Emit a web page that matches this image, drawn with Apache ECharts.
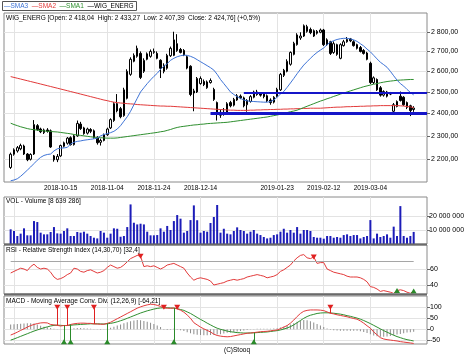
<!DOCTYPE html>
<html><head><meta charset="utf-8">
<script src="https://cdn.jsdelivr.net/npm/echarts@6.0.0/dist/echarts.min.js"></script>
<style>html,body{margin:0;padding:0;background:#fff;}#chart{width:474px;height:355px;}</style>
</head><body><div id="chart"></div>
<script>
// ---------------- data ----------------
const tradingDays = {
  '2018-09': [24,25,26,27,28],
  '2018-10': [1,2,3,4,5,8,9,10,11,12,15,16,17,18,19,22,23,24,25,26,29,30,31],
  '2018-11': [2,5,6,7,8,9,13,14,15,16,19,20,21,22,23,26,27,28,29,30],
  '2018-12': [3,4,5,6,7,10,11,12,13,14,17,18,19,20,21,27,28],
  '2019-01': [2,3,4,7,8,9,10,11,14,15,16,17,18,21,22,23,24,25,28,29,30,31],
  '2019-02': [1,4,5,6,7,8,11,12,13,14,15,18,19,20,21,22,25,26,27,28],
  '2019-03': [1,4,5,6,7,8,11,12,13,14,15,18,19,20,21]
};
const tickLabels = ['2018-10-15','2018-11-04','2018-11-24','2018-12-14','2019-01-23','2019-02-12','2019-03-04'];
const extraGridDates = ['2018-09-25'];

const openP = [2166,2221,2235,2244,2256,2222,2200,2222,2345,2330, 2314,2326,2322,2214,2198,2214,2255,2268,2292,2262,
  2300,2352,2335,2312,2328,2322,2294,2272,2280,2305, 2335,2368,2445,2422,2390,2470,2585,2650,2675,2690,
  2600,2660,2675,2695,2690,2655,2630,2615,2678,2680, 2740,2710,2705,2673,2625,2495,2500,2540,2550,2520,
  2545,2512,2450,2392,2405,2405,2450,2438,2462,2480, 2472,2440,2455,2475,2500,2490,2490,2482,2462,2452,
  2478,2510,2580,2600,2635,2685,2735,2770,2780,2830, 2815,2808,2795,2800,2812,2760,2750,2695,2735,2665,
  2730,2750,2765,2750,2735,2720,2705,2692,2640,2545, 2560,2520,2485,2500,2492,2410,2432,2480,2475,2450,
  2435,2418.04];
const highP = [2228,2246,2256,2266,2262,2226,2225,2370,2352,2336, 2332,2334,2328,2218,2222,2262,2275,2295,2298,2305,
  2368,2362,2340,2336,2334,2328,2298,2288,2310,2336, 2378,2452,2490,2430,2520,2610,2670,2690,2730,2700,
  2665,2695,2710,2715,2700,2660,2640,2688,2725,2803, 2790,2718,2712,2680,2630,2515,2572,2575,2560,2555,
  2565,2520,2455,2418,2425,2452,2458,2472,2490,2488, 2478,2466,2485,2506,2510,2498,2496,2488,2470,2480,
  2520,2592,2612,2660,2700,2750,2795,2800,2842,2840, 2825,2815,2812,2820,2818,2768,2755,2752,2740,2742,
  2760,2775,2770,2758,2740,2728,2712,2698,2648,2575, 2565,2528,2508,2505,2500,2448,2460,2502,2480,2455,
  2440,2433.27];
const lowP = [2160,2215,2228,2238,2218,2192,2195,2218,2322,2312, 2308,2314,2248,2190,2188,2210,2250,2262,2258,2258,
  2296,2326,2305,2306,2312,2288,2262,2258,2276,2300, 2330,2362,2405,2378,2385,2465,2578,2645,2668,2562,
  2592,2655,2668,2688,2660,2567,2590,2608,2672,2676, 2698,2690,2676,2610,2480,2410,2495,2535,2528,2515,
  2540,2458,2368,2380,2390,2400,2428,2432,2458,2466, 2428,2408,2450,2470,2482,2478,2470,2452,2440,2446,
  2474,2505,2572,2595,2628,2680,2730,2760,2775,2798, 2790,2775,2788,2795,2728,2728,2682,2688,2678,2660,
  2725,2745,2748,2725,2710,2695,2684,2655,2538,2538, 2505,2478,2478,2474,2485,2405,2428,2455,2435,2420,
  2388,2407.39];
const closeP = [2221,2240,2249,2258,2222,2198,2220,2350,2328,2318, 2326,2320,2252,2198,2212,2258,2270,2290,2262,2300,
  2355,2332,2310,2330,2320,2292,2270,2280,2305,2330, 2372,2445,2412,2385,2510,2600,2660,2680,2716,2570,
  2655,2688,2700,2700,2665,2615,2600,2680,2716,2760, 2705,2695,2682,2616,2488,2505,2565,2565,2535,2548,
  2555,2465,2395,2405,2398,2445,2435,2465,2482,2472, 2435,2460,2478,2500,2488,2485,2478,2458,2450,2475,
  2512,2585,2605,2650,2695,2742,2786,2780,2835,2805, 2798,2780,2805,2812,2735,2735,2690,2740,2685,2735,
  2750,2762,2755,2730,2716,2700,2690,2660,2545,2568, 2510,2485,2502,2480,2490,2440,2455,2460,2440,2428,
  2413,2424.76];

const sma3 = [2112,2115,2120,2130,2142,2155,2168,2182,2196,2208, 2216,2220,2222,2235,2244,2247,2248,2250,2265,2272,
  2276,2278,2281,2283,2285,2287,2290,2300,2306,2310, 2314,2320,2330,2345,2365,2385,2410,2440,2470,2500,
  2520,2540,2558,2575,2590,2610,2625,2638,2655,2665, 2673,2678,2681,2680,2675,2668,2658,2648,2638,2628,
  2618,2606,2585,2560,2540,2520,2500,2488,2478,2470, 2462,2458,2456,2455,2454,2453,2452,2452,2455,2462,
  2475,2490,2502,2522,2543,2565,2588,2610,2631,2648, 2665,2681,2695,2707,2718,2735,2748,2756,2762,2766,
  2768,2768,2765,2760,2752,2740,2728,2712,2698,2680, 2662,2645,2633,2620,2600,2578,2557,2540,2528,2512,
  2498,2486];
const sma2 = [2574,2570,2566,2562,2558,2554,2550,2546,2542,2538, 2534,2530,2526,2522,2518,2514,2510,2506,2502,2498,
  2494,2490,2486,2482,2478,2474,2470,2466,2462,2459, 2455,2452,2450,2448,2447,2445,2444,2443,2441,2440,
  2439,2438,2437,2436,2435,2434,2434,2433,2433,2432, 2431,2430,2429,2428,2427,2426,2425,2424,2423,2422,
  2421,2420,2419,2418,2417,2416,2415,2415,2414,2414, 2414,2414,2415,2415,2416,2416,2417,2417,2418,2418,
  2419,2419,2420,2420,2421,2421,2422,2422,2423,2423, 2424,2424,2424,2424,2425,2426,2427,2428,2429,2429,
  2430,2431,2431,2432,2432,2433,2433,2434,2434,2435, 2435,2436,2436,2436,2436,2436,2436,2435,2434,2432,
  2430,2427];
const sma1 = [2356,2350,2345,2340,2336,2332,2329,2327,2325,2323, 2322,2320,2319,2318,2317,2315,2313,2311,2309,2306,
  2304,2302,2300,2298,2296,2294,2293,2292,2291,2290, 2290,2290,2291,2293,2295,2297,2299,2301,2303,2305,
  2307,2309,2311,2313,2315,2318,2320,2324,2328,2333, 2337,2340,2342,2344,2346,2348,2349,2351,2352,2354,
  2355,2356,2357,2358,2359,2360,2362,2364,2366,2368, 2370,2372,2374,2376,2378,2380,2382,2384,2387,2390,
  2393,2396,2400,2404,2408,2411,2415,2421,2427,2433, 2439,2445,2451,2457,2462,2468,2473,2479,2484,2490,
  2495,2500,2505,2510,2515,2520,2525,2529,2533,2537, 2540,2544,2547,2550,2552,2554,2556,2557,2558,2559,
  2560,2560];

const volumeM = [10.5,9.3,5.7,7.4,11.2,6.2,6.2,16.4,15.7,8.1, 6.9,6.9,8.6,12.1,7.6,7.4,9.3,11.2,5.7,5.7,
  8.6,8.1,8.8,7.4,5.7,4.5,4.0,9.3,8.1,4.5, 7.4,11.2,10.9,5.2,5.7,12.1,28.3,15.2,14.0,14.5,
  14.0,8.8,6.2,6.2,6.4,11.2,8.8,12.9,10.0,16.4, 20.7,18.1,8.1,9.3,17.1,27.6,17.0,8.1,9.3,8.8,
  15.0,19.3,27.9,8.1,10.9,7.4,6.9,9.3,11.9,10.0, 9.3,7.4,8.8,10.0,7.4,6.4,5.0,4.0,4.5,6.4,
  6.9,8.8,10.9,8.1,10.0,8.1,12.1,7.4,10.0,10.0, 9.3,5.0,4.5,4.5,3.8,5.7,5.7,4.5,5.0,4.5,
  6.4,6.9,5.7,6.4,6.4,4.0,5.0,5.7,17.1,4.0, 7.4,5.0,5.7,6.9,4.5,12.4,5.7,27.1,5.7,4.5,
  5.7,8.639286];

const rsi = [55,57,59,61,60,58,63,66,62,60, 61,60,56,50,47,48,50,53,55,61,
  60,57,56,58,59,57,55,56,58,62, 65,63,61,62,65,69,73,75,77,76,
  63,64,63,64,62,60,62,65,66,67, 65,63,61,55,50,46,48,49,48,47,
  45,40,41,42,43,45,46,47,46,47, 48,50,51,52,53,52,51,49,50,51,
  53,57,59,62,65,70,74,77,78,74, 73,75,67,68,68,60,58,56,55,54,
  53,51,50,50,50,49,47,44,38,37, 35,32,33,32,31,29.5,33,34,33,31,
  29.6,32.4];

const macd = [-26,-20,-13,-5,2,10,17,22,26,29, 30,29,22,20,18,15,17.5,17,22,25,
  27,28,28,27,27,24.5,24,23,23,27, 32,40,48,56,64,72,80,88,96,102,
  107,111,114,113,109,104,97,96,95.5,97, 93,87,78,65,50,30,20,10,2,-5,
  -12,-22,-28,-31,-33,-34,-33,-30,-27,-24, -21,-18,-17,-15,-13,-11,-10,-9,-7,-5,
  -3,3,10,17,28,42,58,72,82,86, 88,88,88,87,85,79,73,70,66,63,
  60,57,53,49,46,38,28,16,5,-12, -25,-38,-44,-47,-49,-51,-53,-56,-58,-60,
  -62,-64.21];
const signal = [-49,-44,-38,-32,-26,-20,-14,-8,-3,2, 7,11,15,18,19,18,17,17.5,18.5,20,
  21,22,23,24,25,25,25,24.5,24,25, 27,30,34,39,44,50,56,62,68,74,
  79,84,88,92,95,97,98,98,97,96, 94,90,86,79,72,63,54,45,37,28,
  20,12,5,0,-4,-8,-11,-13,-15,-16, -17,-17,-16.5,-16,-15,-14,-13,-12,-10,-8,
  -6,-3,1,6,12,20,30,40,50,58, 64,68,72,74,75,75,74.5,73,71,69,
  66,62,59,55,51,46,40,33,26,18, 10,2,-6,-13,-20,-27,-33,-38,-43,-47,
  -50,-53];
const hist = [22,23,24,25,26,27,27,26,22,16, 12,9,6,3,1,-1,1,0,3,5,
  6,6,5,4,3,-1,-1,-2,-1,2, 7,12,17,22,27,32,37,40,42,41,
  38,34,30,24,17,10,-2,-3,-2,2, -2,-4,-8,-13,-18,-22,-25,-26,-27,-27,
  -26,-25,-24,-22,-19,-16,-14,-12,-10,-8, -5,-3,-1,1,2,2,3,3,3,4,
  5,8,12,17,22,28,34,39,42,41, 37,31,24,17,10,4,-2,-4,-5,-6,
  -6,-6,-6,-6,-7,-9,-12,-17,-22,-28, -32,-34,-34,-33,-30,-27,-24,-21,-18,-15,
  -13,-11];

const macdSellIdx = [14,17,25,46,50,96];
const macdBuyIdx  = [16,18,29,49,73];
const rsiSellIdx  = [39,91];
const rsiBuyIdx   = [116,121];
const supportLines = [{value: 2498, fromIdx: 70}, {value: 2402, fromIdx: 60}];

const priceTicks = [2200,2300,2400,2500,2600,2700,2800];
const volTicks = [10,20];
const rsiTicks = [40,60];
const rsiLevels = [30,70];
const macdTicks = [-50,0,50,100];
const changeText = '(+0,5%)';

// ---------------- build ----------------
const FONT = 'Liberation Sans';
const FS = 6.5;
const dates = [];
Object.keys(tradingDays).forEach(m => tradingDays[m].forEach(d => dates.push(m + '-' + (d < 10 ? '0' : '') + d)));
const PADL = 2, PADR = 4, NCAT = PADL + dates.length + PADR;
const cats = [];
for (let k = 0; k < NCAT; k++) { const i = k - PADL; cats.push(i >= 0 && i < dates.length ? dates[i] : 'pad' + k); }
const K = i => i + PADL;
const firstOnOrAfter = d => dates.findIndex(x => x >= d);
const labelAt = {};
tickLabels.forEach(t => { labelAt[K(firstOnOrAfter(t))] = t; });
const gridAt = new Set(Object.keys(labelAt).map(Number));
extraGridDates.forEach(t => gridAt.add(K(firstOnOrAfter(t))));
const pairs = arr => arr.map((v, i) => [K(i), v]);
const N = dates.length;

function fmtNum(v, dec) {
  const neg = v < 0; const s = Math.abs(v).toFixed(dec); const parts = s.split('.');
  const a = parts[0].replace(/\B(?=(\d{3})+(?!\d))/g, ' ');
  return (neg ? '-' : '') + a + (parts[1] !== undefined ? ',' + parts[1] : '');
}

const gridBox = {show: true, borderColor: '#8a8a8a', borderWidth: 1, containLabel: false, outerBoundsMode: 'none'};
const grids = [
  Object.assign({left: 4, top: 13, width: 423, height: 169}, gridBox),
  Object.assign({left: 4, top: 197, width: 423, height: 47}, gridBox),
  Object.assign({left: 4, top: 245, width: 423, height: 49}, gridBox),
  Object.assign({left: 4, top: 296, width: 423, height: 48}, gridBox)
];
const GRIDCOL = '#e3e3e3';
const xAxes = grids.map((g, gi) => ({
  type: 'category', gridIndex: gi, data: cats, boundaryGap: false,
  axisLine: {show: false}, axisTick: {show: false},
  axisLabel: gi === 0 ? {show: true, interval: idx => labelAt[idx] !== undefined,
      formatter: (v, idx) => labelAt[idx] || '', fontSize: FS, color: '#000', margin: 3, fontFamily: FONT}
    : {show: false},
  splitLine: {show: true, interval: idx => gridAt.has(idx), lineStyle: {color: GRIDCOL, width: 1}}
}));
function yAx(gi, type, min, max, ticks, fmt, margin) {
  return {type: type, gridIndex: gi, position: 'right', min: min, max: max, scale: true,
    axisLine: {show: false},
    axisTick: {show: true, length: 3, customValues: ticks, lineStyle: {color: '#666'}},
    splitLine: {show: true, lineStyle: {color: GRIDCOL, width: 1}},
    axisLabel: {customValues: ticks, formatter: fmt, fontSize: 7, color: '#000', margin: margin, fontFamily: FONT}};
}
const yAxes = [
  Object.assign(yAx(0, 'log', 2107, 2904.5, priceTicks, v => fmtNum(v, 2), 4), {logBase: 10}),
  yAx(1, 'value', 0, 33.6, volTicks, v => fmtNum(v * 1e6, 0), 2),
  yAx(2, 'value', 28.75, 90, rsiTicks, v => String(v), 3),
  yAx(3, 'value', -66.8, 151.4, macdTicks, v => String(v), 3)
];

const C_SMA3 = '#3f74d6', C_SMA2 = '#e23a3a', C_SMA1 = '#2f8f2f';
const C_RED = '#e02020', C_GREEN = '#2a8a2a';
const lineS = (name, data, color, xi, yi, z) => ({name: name, type: 'line', xAxisIndex: xi, yAxisIndex: yi,
  data: data, symbol: 'none', silent: true, z: z || 3, lineStyle: {color: color, width: 1}, itemStyle: {color: color}});
const tri = (data, color, down, xi, yi) => ({type: 'scatter', xAxisIndex: xi, yAxisIndex: yi, data: data,
  symbol: 'triangle', symbolSize: [6, 5], symbolRotate: down ? 180 : 0, silent: true, z: 6,
  itemStyle: {color: color, opacity: 1}});
const vline = (list, color) => ({silent: true, symbol: ['none', 'none'], label: {show: false}, animation: false,
  lineStyle: {color: color, width: 1, type: 'solid'}, data: list});

const MACD_TOP = 100, MACD_BOTTOM = -57;
const txt = (text, left, top, extra) => Object.assign({text: text, left: left, top: top, padding: 0,
  textStyle: {fontSize: FS, fontWeight: 'normal', color: '#000', fontFamily: FONT}}, extra || {});
const last = N - 1;
const titles = [
  txt('WIG_ENERG [Open: ' + fmtNum(openP[last], 2) + '  High: ' + fmtNum(highP[last], 2) + '  Low: ' +
      fmtNum(lowP[last], 2) + '  Close: ' + fmtNum(closeP[last], 2) + '] ' + changeText, 6, 14.5),
  txt('VOL - Volume [' + fmtNum(volumeM[last] * 1e6, 0) + ']', 6, 197.5),
  txt('RSI - Relative Strength Index (14,30,70) [' + fmtNum(rsi[last], 1) + ']', 6, 247),
  txt('MACD - Moving Average Conv. Div. (12,26,9) [' + fmtNum(macd[last], 2) + ']', 6, 297.5),
  txt('(C)Stooq', 'center', 347),
  // legend box (rich text)
  {text: '{b|—SMA3}  {r|—SMA2}  {g|—SMA1}  {k|—WIG_ENERG}', left: 2, top: 1, padding: [1, 3, 0, 2],
   borderColor: '#555', borderWidth: 1,
   textStyle: {fontSize: FS, fontWeight: 'normal', fontFamily: FONT, lineHeight: 9,
     rich: {b: {color: C_SMA3, fontSize: FS, fontFamily: FONT}, r: {color: C_SMA2, fontSize: FS, fontFamily: FONT},
            g: {color: C_SMA1, fontSize: FS, fontFamily: FONT}, k: {color: '#000', fontSize: FS, fontFamily: FONT}}}}
];

const option = {
  animation: false,
  backgroundColor: '#fff',
  textStyle: {fontFamily: FONT},
  title: titles,
  grid: grids,
  xAxis: xAxes,
  yAxis: yAxes,
  graphic: [
    {type: 'line', shape: {x1: 4, y1: 244.5, x2: 427, y2: 244.5}, style: {stroke: '#6a6a6a', lineWidth: 2}, silent: true, z: 10},
    {type: 'line', shape: {x1: 4, y1: 294.5, x2: 427, y2: 294.5}, style: {stroke: '#6a6a6a', lineWidth: 2}, silent: true, z: 10}
  ],
  series: [
    {name: 'WIG_ENERG', type: 'candlestick', xAxisIndex: 0, yAxisIndex: 0, barWidth: 2, z: 2, silent: true,
     data: dates.map((d, i) => [K(i), openP[i], closeP[i], lowP[i], highP[i]]),
     encode: {x: 0, y: [1, 2, 3, 4]},
     itemStyle: {color: '#fff', color0: '#000', borderColor: '#000', borderColor0: '#000', borderWidth: 1},
     markLine: {silent: true, symbol: ['none', 'none'], label: {show: false}, animation: false, z: 5,
       data: supportLines.map((s, j) => [
         {coord: [K(s.fromIdx), s.value], lineStyle: {color: '#1515c8', width: j === 0 ? 2 : 3, type: 'solid'}},
         {coord: [NCAT - 1, s.value]}])}},
    lineS('SMA2', pairs(sma2), C_SMA2, 0, 0),
    lineS('SMA1', pairs(sma1), C_SMA1, 0, 0),
    lineS('SMA3', pairs(sma3), C_SMA3, 0, 0),
    {name: 'VOL', type: 'bar', xAxisIndex: 1, yAxisIndex: 1, data: pairs(volumeM), barWidth: 2, silent: true,
     itemStyle: {color: '#1c1cb8'}},
    Object.assign(lineS('RSI', pairs(rsi), C_SMA2, 2, 2), {
      markLine: vline(rsiLevels.map(v => [{coord: [K(0), v]}, {coord: [K(last), v]}]), '#a6a6a6')}),
    tri(rsiSellIdx.map(i => [K(i), rsi[i]]), C_RED, true, 2, 2),
    tri(rsiBuyIdx.map(i => [K(i), rsi[i]]), C_GREEN, false, 2, 2),
    {name: 'HIST', type: 'bar', xAxisIndex: 3, yAxisIndex: 3, data: pairs(hist), barWidth: 1, silent: true,
     itemStyle: {color: '#8c8c8c'}},
    lineS('SIGNAL', pairs(signal), C_SMA1, 3, 3),
    lineS('MACD', pairs(macd), C_SMA2, 3, 3),
    Object.assign(tri(macdSellIdx.map(i => [K(i), MACD_TOP]), C_RED, true, 3, 3), {
      markLine: vline(macdSellIdx.map(i => [{coord: [K(i), MACD_TOP]}, {coord: [K(i), macd[i]]}]), C_RED)}),
    Object.assign(tri(macdBuyIdx.map(i => [K(i), MACD_BOTTOM]), C_GREEN, false, 3, 3), {
      markLine: vline(macdBuyIdx.map(i => [{coord: [K(i), MACD_BOTTOM]}, {coord: [K(i), macd[i]]}]), C_GREEN)})
  ]
};
const chart = echarts.init(document.getElementById('chart'), null, {renderer: 'canvas'});
chart.setOption(option);
</script>
</body></html>
